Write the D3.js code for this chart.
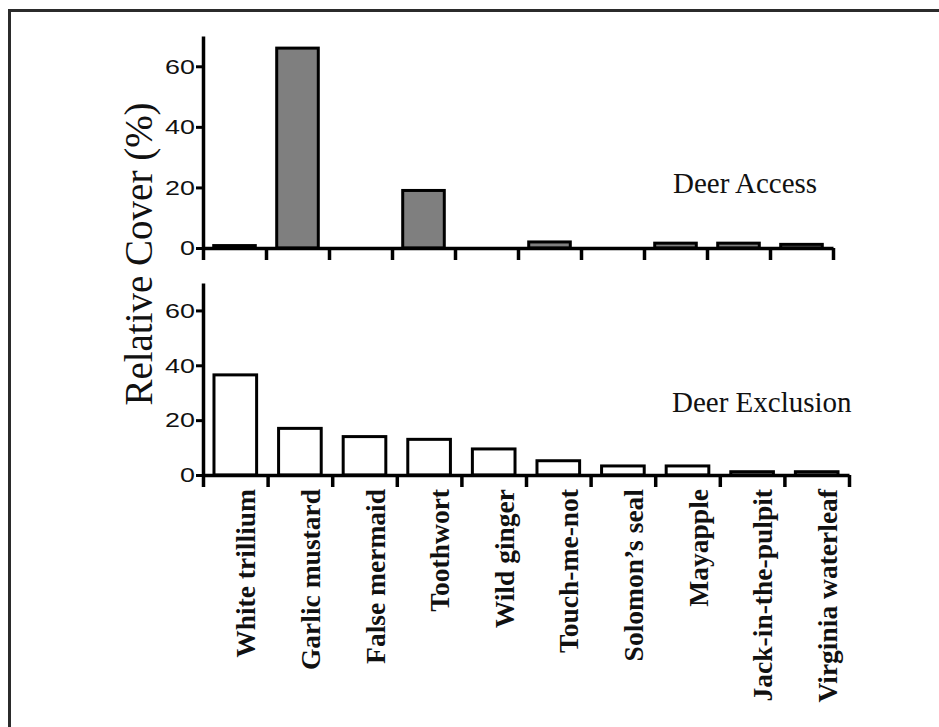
<!DOCTYPE html>
<html>
<head>
<meta charset="utf-8">
<script src="https://cdn.jsdelivr.net/npm/d3@7"></script>
<style>
  body { margin: 0; background: #fff; }
  svg { display: block; }
</style>
</head>
<body>
<div id="chart"></div>
<script>
// species along the x axis (same order in both panels)
const species = [
    'White trillium', 'Garlic mustard', 'False mermaid', 'Toothwort', 'Wild ginger',
    'Touch-me-not', 'Solomon\u2019s seal', 'Mayapple', 'Jack-in-the-pulpit', 'Virginia waterleaf'
];
// relative cover (%) with deer access
const accessCover = [0.8, 66, 0, 19, 0, 2, 0, 1.6, 1.6, 1.2];
// relative cover (%) with deer excluded
const exclusionCover = [36.5, 17, 14, 13, 9.5, 5.2, 3.3, 3.3, 1.2, 1.2];
const yTicks = [0, 20, 40, 60];

const W = 939, H = 727;
const svg = d3.select('#chart').append('svg')
    .attr('width', W)
    .attr('height', H);

// frame, only left and top edges fall inside the picture
svg.append('rect')
    .attr('x', 9.5).attr('y', 10.5)
    .attr('width', 1000).attr('height', 1000)
    .attr('fill', 'none')
    .attr('stroke', '#2b2b2b')
    .attr('stroke-width', 3);

const panels = [
    { values: accessCover, fill: '#7f7f7f', x0: 203, x1: 833, yb: 248, yt: 36, title: 'Deer Access', tx: 673, ty: 193 },
    { values: exclusionCover, fill: '#fff', x0: 203, x1: 849, yb: 475, yt: 283, title: 'Deer Exclusion', tx: 672, ty: 412 }
];

let lastX;
panels.forEach(p => {
    const x = d3.scaleBand().domain(species).range([p.x0, p.x1]).paddingInner(0.34).paddingOuter(0.17);
    const edges = d3.scaleLinear().domain([0, species.length]).range([p.x0, p.x1]);
    const y = d3.scaleLinear().domain([0, 70]).range([p.yb, p.yt]);
    lastX = x;

    const g = svg.append('g');

    g.selectAll('rect.bar')
        .data(p.values.map((v, i) => ({ name: species[i], v })).filter(d => d.v > 0))
        .enter()
        .append('rect')
        .attr('class', 'bar')
        .attr('x', d => x(d.name))
        .attr('width', x.bandwidth())
        .attr('y', d => y(d.v))
        .attr('height', d => y(0) - y(d.v))
        .attr('fill', p.fill)
        .attr('stroke', '#000')
        .attr('stroke-width', 3);

    // x axis: ticks sit on the boundaries between species
    const xa = g.append('g')
        .attr('transform', `translate(0,${p.yb})`)
        .call(d3.axisBottom(edges).tickValues(d3.range(species.length + 1)).tickSize(12).tickSizeOuter(0).tickFormat(''));
    xa.select('.domain').attr('stroke-width', 3.5);
    xa.selectAll('.tick line').attr('stroke-width', 3.5);

    const ya = g.append('g')
        .attr('transform', `translate(${p.x0},0)`)
        .call(d3.axisLeft(y).tickValues(yTicks).tickSize(7).tickSizeOuter(0).tickPadding(1));
    ya.select('.domain').attr('stroke-width', 3.5);
    ya.selectAll('.tick line').attr('stroke-width', 3);
    ya.selectAll('.tick text')
        .attr('font-family', '"Liberation Sans", Arial, sans-serif')
        .attr('font-size', 21)
        .attr('fill', '#111')
        .attr('x', -8 / 1.28)
        .attr('transform', 'scale(1.28,1)');

    g.append('text')
        .attr('x', p.tx).attr('y', p.ty)
        .attr('font-family', '"Liberation Serif", "Times New Roman", serif')
        .attr('font-size', 29)
        .attr('fill', '#111')
        .text(p.title);
});

// species names under the lower panel
svg.selectAll('text.species')
    .data(species)
    .enter()
    .append('text')
    .attr('class', 'species')
    .attr('transform', d => `translate(${lastX(d) + lastX.bandwidth() / 2},489) rotate(-90)`)
    .attr('dy', 20)
    .attr('text-anchor', 'end')
    .attr('font-family', '"Liberation Serif", "Times New Roman", serif')
    .attr('font-weight', 'bold')
    .attr('font-size', 27.5)
    .attr('fill', '#111')
    .text(d => d);

svg.append('text')
    .attr('transform', 'translate(152,254) rotate(-90)')
    .attr('text-anchor', 'middle')
    .attr('font-family', '"Liberation Serif", "Times New Roman", serif')
    .attr('font-size', 39)
    .attr('fill', '#111')
    .text('Relative Cover (%)');
</script>
</body>
</html>
